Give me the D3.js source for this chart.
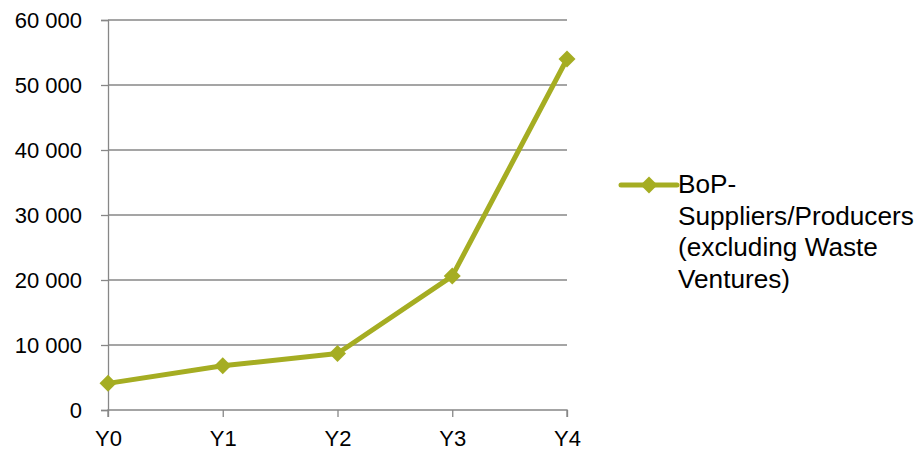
<!DOCTYPE html>
<html>
<head>
<meta charset="utf-8">
<script src="https://cdn.jsdelivr.net/npm/d3@7"></script>
<style>
  html, body { margin: 0; padding: 0; background: #fff; }
  svg { display: block; font-family: "Liberation Sans", Arial, sans-serif; }
</style>
</head>
<body>
<svg id="chart" width="924" height="450"></svg>
<script>
// Series data
const categories = ["Y0", "Y1", "Y2", "Y3", "Y4"];
const values = [4100, 6800, 8700, 20600, 54000];
const yTicks = [0, 10000, 20000, 30000, 40000, 50000, 60000];
const seriesName = ["BoP-", "Suppliers/Producers", "(excluding Waste", "Ventures)"];

const lineColor = "#a5ad22";
const gridColor = "#878787";
const axisFont = 22;
const legendFont = 26.2;

const svg = d3.select("#chart");
const plot = { left: 108, right: 567, top: 20, bottom: 410 };

const x = d3.scalePoint().domain(categories).range([plot.left, plot.right]);
const y = d3.scaleLinear().domain([0, 60000]).range([plot.bottom, plot.top]);

const fmt = v => d3.format(",")(v).replace(/,/g, " ");

// Horizontal gridlines
svg.append("g")
  .selectAll("line")
  .data(yTicks.filter(d => d > 0))
  .join("line")
  .attr("x1", plot.left).attr("x2", plot.right)
  .attr("y1", d => y(d)).attr("y2", d => y(d))
  .attr("stroke", gridColor).attr("stroke-width", 1.3);

// Y axis
const yAxis = svg.append("g")
  .attr("transform", `translate(${plot.left},0)`)
  .call(d3.axisLeft(y).tickValues(yTicks).tickFormat(fmt).tickSize(7).tickPadding(19));
yAxis.select(".domain").attr("stroke", gridColor).attr("stroke-width", 1.3);
yAxis.selectAll(".tick line").attr("stroke", gridColor).attr("stroke-width", 1.3);
yAxis.selectAll(".tick text").attr("fill", "#000").style("font-size", axisFont + "px")
  .style("font-family", "'Liberation Sans', Arial, sans-serif");

// X axis
const xAxis = svg.append("g")
  .attr("transform", `translate(0,${y(0)})`)
  .call(d3.axisBottom(x).tickSize(7).tickPadding(13));
xAxis.select(".domain").attr("stroke", gridColor).attr("stroke-width", 1.3)
  .attr("d", `M${plot.left},7V0H${plot.right}V7`);
xAxis.selectAll(".tick line").attr("stroke", gridColor).attr("stroke-width", 1.3);
xAxis.selectAll(".tick text").attr("fill", "#000").style("font-size", axisFont + "px")
  .style("font-family", "'Liberation Sans', Arial, sans-serif");

// Series line
const pts = categories.map((c, i) => [x(c), y(values[i])]);
svg.append("path")
  .attr("d", d3.line()(pts))
  .attr("fill", "none")
  .attr("stroke", lineColor)
  .attr("stroke-width", 5)
  .attr("stroke-linejoin", "round");

// Diamond markers
const marker = d3.symbol().type(d3.symbolSquare).size(144);
svg.append("g")
  .selectAll("path")
  .data(pts)
  .join("path")
  .attr("d", marker)
  .attr("transform", d => `translate(${d[0]},${d[1]}) rotate(45)`)
  .attr("fill", lineColor);

// Legend
const lg = svg.append("g").attr("transform", "translate(621,185)");
lg.append("line").attr("x1", 0).attr("x2", 56).attr("y1", 0).attr("y2", 0)
  .attr("stroke", lineColor).attr("stroke-width", 5).attr("stroke-linecap", "round");
lg.append("path").attr("d", marker)
  .attr("transform", "translate(28,0) rotate(45)").attr("fill", lineColor);
lg.append("text")
  .style("font-size", legendFont + "px").attr("fill", "#000")
  .selectAll("tspan")
  .data(seriesName)
  .join("tspan")
  .attr("x", 57)
  .attr("y", (d, i) => 8 + i * 31.7)
  .text(d => d);
</script>
</body>
</html>
